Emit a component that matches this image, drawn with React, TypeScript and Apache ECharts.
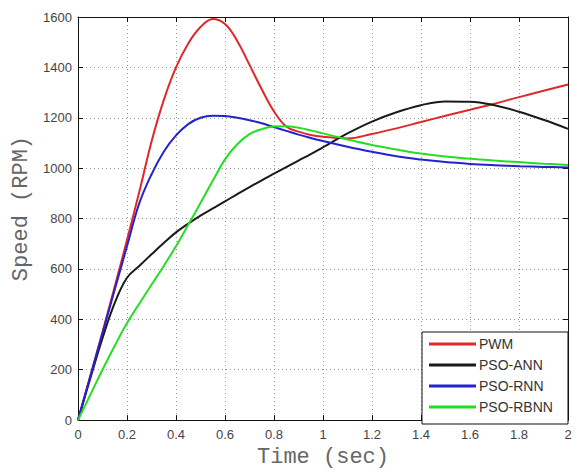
import React, { useEffect, useRef } from 'react';
import * as echarts from 'echarts';

const TIME = [0, 0.05, 0.1, 0.15, 0.2, 0.25, 0.3, 0.35, 0.4, 0.45, 0.5, 0.55, 0.6, 0.65, 0.7, 0.75, 0.8, 0.85, 0.9, 0.95, 1.0, 1.1, 1.2, 1.3, 1.4, 1.5, 1.6, 1.7, 1.8, 1.9, 2.0];
const PWM = [0, 175, 350, 530, 715, 905, 1105, 1270, 1400, 1495, 1560, 1592, 1572, 1505, 1410, 1313, 1225, 1165, 1145, 1132, 1125, 1118, 1136, 1158, 1183, 1208, 1232, 1256, 1282, 1307, 1332];
const PSO_ANN = [0, 165, 325, 465, 565, 612, 658, 703, 745, 780, 812, 840, 868, 897, 925, 952, 978, 1004, 1030, 1056, 1083, 1138, 1185, 1222, 1250, 1265, 1264, 1250, 1224, 1192, 1156];
const PSO_RNN = [0, 172, 345, 518, 690, 860, 975, 1065, 1130, 1175, 1200, 1208, 1207, 1200, 1190, 1178, 1163, 1148, 1133, 1120, 1108, 1085, 1065, 1047, 1034, 1024, 1017, 1012, 1008, 1005, 1003];
const PSO_RBNN = [0, 100, 200, 295, 385, 462, 537, 612, 690, 775, 862, 950, 1035, 1095, 1135, 1155, 1165, 1166, 1160, 1150, 1138, 1114, 1092, 1074, 1058, 1046, 1037, 1030, 1024, 1018, 1013];

const SERIES_NAMES = ['PWM', 'PSO-ANN', 'PSO-RNN', 'PSO-RBNN'];
const SERIES_COLORS = ['#e02828', '#1a1a1a', '#2323cc', '#26dd26'];
const X_LABEL = 'Time (sec)';
const Y_LABEL = 'Speed (RPM)';

export default function App() {
  const ref = useRef<HTMLDivElement>(null);
  useEffect(() => {
    const chart = echarts.init(ref.current!, null, { renderer: 'svg' });
    const values = [PWM, PSO_ANN, PSO_RNN, PSO_RBNN];
    const labelStyle = { fontFamily: 'Liberation Sans', fontSize: 13, color: '#444' };
    const nameStyle = { fontFamily: 'Liberation Mono', fontSize: 22, color: '#666' };
    const gridLine = { show: true, lineStyle: { color: '#999', type: [1, 3], width: 1 } };
    const axisLine = { show: true, onZero: false, lineStyle: { color: '#111', width: 1 } };
    const tick = { show: true, inside: true, length: 5, lineStyle: { color: '#111' } };
    const option = {
      animation: false,
      backgroundColor: '#fff',
      grid: { left: 78, right: 7, top: 17, bottom: 49 },
      xAxis: [
        {
          type: 'value', min: 0, max: 2, interval: 0.2,
          name: X_LABEL, nameLocation: 'middle', nameGap: 24, nameTextStyle: nameStyle,
          axisLine, axisTick: tick, splitLine: gridLine,
          axisLabel: { ...labelStyle, margin: 8, formatter: (v: number) => String(+v.toFixed(1)) },
        },
        {
          type: 'value', position: 'top', min: 0, max: 2, interval: 0.2,
          axisLine, axisTick: tick, splitLine: { show: false }, axisLabel: { show: false },
        },
      ],
      yAxis: [
        {
          type: 'value', min: 0, max: 1600, interval: 200,
          name: Y_LABEL, nameLocation: 'middle', nameGap: 36,
          nameTextStyle: { ...nameStyle, padding: [0, 0, 0, 20] },
          axisLine, axisTick: tick, splitLine: gridLine,
          axisLabel: { ...labelStyle, margin: 6, formatter: (v: number) => String(v) },
        },
        {
          type: 'value', position: 'right', min: 0, max: 1600, interval: 200,
          axisLine, axisTick: tick, splitLine: { show: false }, axisLabel: { show: false },
        },
      ],
      legend: {
        orient: 'vertical', left: 429, top: 337, z: 20,
        icon: 'rect', itemWidth: 47, itemHeight: 3, itemGap: 7, padding: 0,
        textStyle: { fontFamily: 'Liberation Sans', fontSize: 14, color: '#333', padding: [0, 0, 0, -2] },
        data: SERIES_NAMES,
      },
      graphic: [
        {
          type: 'rect', z: 10, shape: { x: 422, y: 332, width: 146, height: 92 },
          style: { fill: '#fff', stroke: '#111', lineWidth: 1 },
        },
      ],
      series: SERIES_NAMES.map((name, i) => ({
        name, type: 'line', smooth: 0.4, symbol: 'none',
        color: SERIES_COLORS[i],
        lineStyle: { width: 2, color: SERIES_COLORS[i] },
        data: TIME.map((t, j) => [t, values[i][j]]),
      })),
    };
    chart.setOption(option as any);
    return () => chart.dispose();
  }, []);
  return <div ref={ref} style={{ position: 'fixed', left: 0, top: 0, width: 575, height: 473 }} />;
}
